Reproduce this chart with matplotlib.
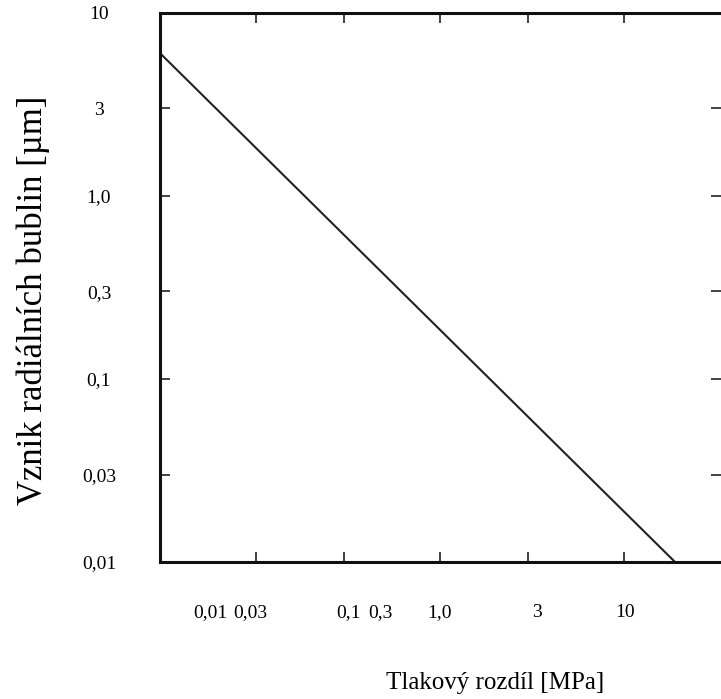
import matplotlib
matplotlib.use("Agg")
import matplotlib.pyplot as plt
from matplotlib.ticker import NullLocator

# krivka (log-log)
x_line = [0.03, 18.9]
y_line = [6.0, 0.01]

# vnitřní značky na ose x
x_ticks = [0.1, 0.3, 1, 3, 10]
# popisky osy x (v originále posunuté vůči značkám)
x_label_pos = [0.056, 0.093, 0.316, 0.472, 0.99, 3.37, 10.1]
x_labels = ["0,01", "0,03", "0,1", "0,3", "1,0", "3", "10"]

y_ticks = [0.01, 0.03, 0.1, 0.3, 1, 3, 10]
y_labels = ["0,01", "0,03", "0,1", "0,3", "1,0", "3", "10"]

plt.rcParams["font.family"] = ["Liberation Serif", "DejaVu Serif"]

fig = plt.figure(figsize=(7.21, 6.99), dpi=100)
ax = fig.add_axes([0.222, 0.196, 0.778, 0.786])
ax.set_xscale("log")
ax.set_yscale("log")

ax.plot(x_line, y_line, color="#222222", lw=1.5)
ax.set_xlim(0.03, 33.6)
ax.set_ylim(0.01, 10)

ax.set_xticks(x_ticks, labels=[""] * len(x_ticks))
ax.set_xticks(x_label_pos, labels=x_labels, minor=True)
ax.tick_params(axis="x", which="major", direction="in", length=7, width=1.3,
               top=True, bottom=True, color="#333333")
ax.tick_params(axis="x", which="minor", length=0, pad=30, labelsize=14,
               top=False)

ax.set_yticks(y_ticks, labels=y_labels)
ax.yaxis.set_minor_locator(NullLocator())
ax.tick_params(axis="y", direction="in", length=7, width=1.3, left=True,
               right=True, pad=44, labelsize=14, color="#333333")
for t in ax.get_yticklabels():
    t.set_ha("center")

for side in ["left", "top", "bottom"]:
    ax.spines[side].set_linewidth(2.2)
    ax.spines[side].set_color("#111111")
ax.spines["right"].set_visible(False)

ax.set_xlabel("Tlakový rozdíl [MPa]", fontsize=18, va="center")
ax.xaxis.set_label_coords(0.597, -0.22)
ax.set_ylabel("Vznik radiálních bublin [µm]", fontsize=25, va="center")
ax.yaxis.set_label_coords(-0.226, 0.477)

fig.savefig("out.png", dpi=100)
